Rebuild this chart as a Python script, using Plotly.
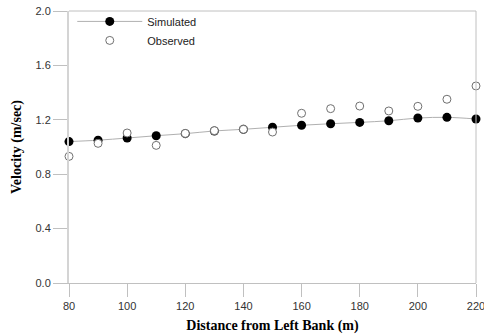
import plotly.graph_objects as go

distance = [80, 90, 100, 110, 120, 130, 140, 150, 160, 170, 180, 190, 200, 210, 220]
simulated = [1.04, 1.05, 1.066, 1.083, 1.098, 1.118, 1.13, 1.145, 1.16, 1.171, 1.181, 1.193, 1.213, 1.218, 1.206]
observed = [0.931, 1.027, 1.103, 1.012, 1.10, 1.12, 1.13, 1.11, 1.248, 1.282, 1.301, 1.265, 1.299, 1.351, 1.449]

x_ticks = [80, 100, 120, 140, 160, 180, 200, 220]
y_ticks = [0.0, 0.4, 0.8, 1.2, 1.6, 2.0]

fig = go.Figure()
fig.add_trace(go.Scatter(
    x=distance, y=simulated, name="Simulated", mode="lines+markers",
    line=dict(color="#b0b0b0", width=1, shape="spline"),
    marker=dict(color="black", size=9, line=dict(width=0)),
    cliponaxis=False,
))
fig.add_trace(go.Scatter(
    x=distance, y=observed, name="Observed", mode="markers",
    marker=dict(color="white", size=8, line=dict(color="#707070", width=1)),
    cliponaxis=False,
))

axis_font = dict(family="Liberation Serif", size=14, color="black")
tick_font = dict(family="Liberation Sans, Arial", size=11, color="#333333")

fig.update_layout(
    width=484, height=334,
    margin=dict(l=69, r=8, t=11, b=51, autoexpand=False),
    plot_bgcolor="white", paper_bgcolor="white",
    showlegend=True,
    legend=dict(x=0.008, y=1.015, xanchor="left", yanchor="top",
                bgcolor="rgba(0,0,0,0)", font=dict(family="Liberation Sans, Arial", size=11, color="#222222"),
                tracegroupgap=0, itemwidth=65),
    xaxis=dict(range=[80, 220], tickvals=x_ticks, ticks="outside", ticklen=13,
               tickcolor="#c0c0c0", showgrid=False, zeroline=False,
               showline=True, linecolor="#c0c0c0", linewidth=1,
               tickfont=tick_font, automargin=False, ticklabeloverflow="allow",
               title=dict(text="<b>Distance from Left Bank (m)</b>", font=axis_font, standoff=8)),
    yaxis=dict(range=[0, 2.0], tickvals=y_ticks, tickformat=".1f", ticks="outside", ticklen=14,
               tickcolor="#c0c0c0", showgrid=False, zeroline=False,
               showline=True, linecolor="#d4d4d4", linewidth=2,
               tickfont=tick_font, automargin=False,
               title=dict(text="<b>Velocity (m/sec)</b>", font=axis_font, standoff=11)),
    shapes=[
        dict(type="line", xref="paper", yref="paper", x0=0, x1=1, y0=1, y1=1,
             line=dict(color="#c0c0c0", width=1)),
        dict(type="line", xref="paper", yref="paper", x0=1, x1=1, y0=0, y1=1,
             line=dict(color="#c0c0c0", width=1)),
    ],
)

fig.write_html("out.html", config={"displayModeBar": False},
               post_script="document.body.style.margin='0';document.body.style.padding='0';")
